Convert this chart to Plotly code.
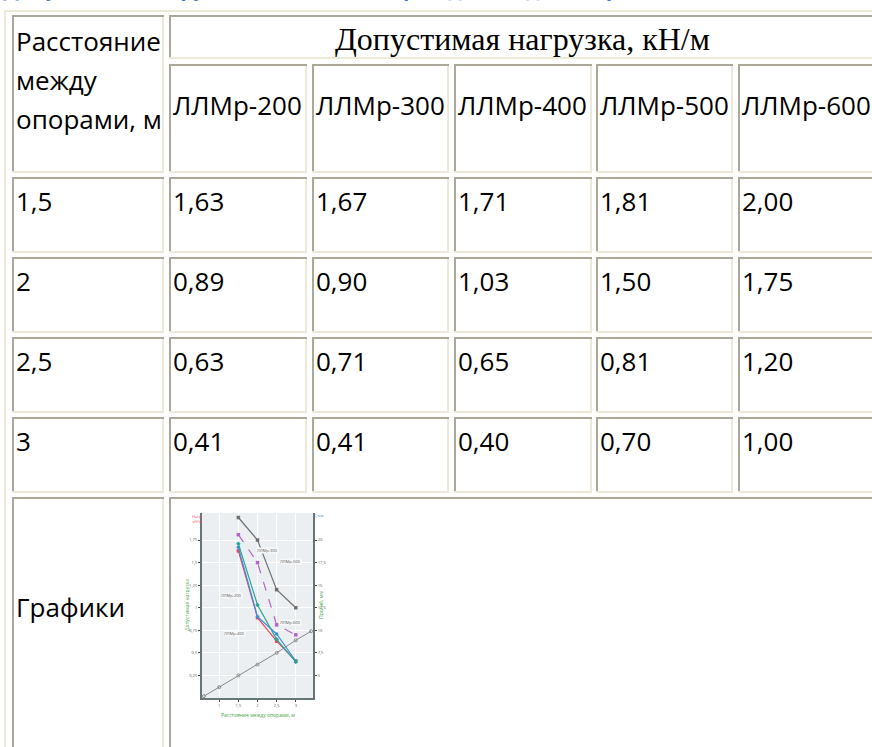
import plotly.graph_objects as go

# ---------------- data ----------------
page_title = "Допустимая нагрузка на лотки ЛЛМр водоотводные с решёткой"
header_top = "Допустимая нагрузка, кН/м"
first_col_header = ["Расстояние", "между", "опорами, м"]
series = ["ЛЛМр-200", "ЛЛМр-300", "ЛЛМр-400", "ЛЛМр-500", "ЛЛМр-600"]
span_labels = ["1,5", "2", "2,5", "3"]
span_values = [1.5, 2.0, 2.5, 3.0]
llmr200 = [1.63, 0.89, 0.63, 0.41]
llmr300 = [1.67, 0.90, 0.71, 0.41]
llmr400 = [1.71, 1.03, 0.65, 0.40]
llmr500 = [1.81, 1.50, 0.81, 0.70]
llmr600 = [2.00, 1.75, 1.20, 1.00]
last_row_label = "Графики"

# thumbnail chart (small picture in last row)
thumb_xticks = [1.0, 1.5, 2.0, 2.5, 3.0]
thumb_xticktext = ["1", "1,5", "2", "2,5", "3"]
thumb_yticks = [0.25, 0.5, 0.75, 1.0, 1.25, 1.5, 1.75]
thumb_yticktext = ["0,25", "0,5", "0,75", "1", "1,25", "1,5", "1,75"]
thumb_rticks = [0.25, 0.5, 0.75, 1.0, 1.25, 1.5, 1.75]
thumb_rticktext = ["5", "7,5", "10", "12,5", "15", "17,5", "20"]
deflect_x = [0.6, 1.0, 1.5, 2.0, 2.5, 3.0, 3.4]
deflect_y = [0.02, 0.12, 0.25, 0.37, 0.50, 0.64, 0.74]
thumb_left_title = "Допустимая нагрузка"
thumb_right_title = "Прогиб, мм"
thumb_x_title = "Расстояние между опорами, м"
thumb_top_left = "Нагр.<br>кН/м"
thumb_top_right = "С,мм"

values = [llmr200, llmr300, llmr400, llmr500, llmr600]


def fmt(v):
    return f"{v:.2f}".replace(".", ",")


# ---------------- layout constants ----------------
W, H = 872, 747
DARK = "#aca899"
LIGHT = "#ece9d8"
BODY_FONT = "Open Sans"
BODY_SIZE = 26
TEXT = "#000000"

col_edges = [(12, 164), (169, 307), (312, 449), (454, 592), (596, 733), (738, 876)]
row_h1 = (15, 59)
row_h2 = (64, 173)
data_rows = [(177, 253), (257, 333), (337, 413), (417, 493)]
last_row = (497, 780)

fig = go.Figure()
shapes = []
annotations = []


def line(x0, y0, x1, y1, color, w=2):
    shapes.append(dict(type="line", xref="x", yref="y", x0=x0, y0=y0, x1=x1, y1=y1,
                       line=dict(color=color, width=w), layer="above"))


def cell(x0, y0, x1, y1):
    # inset border: dark top/left, light bottom/right
    line(x0, y0 + 1, x1, y0 + 1, DARK)
    line(x0 + 1, y0, x0 + 1, y1, DARK)
    line(x0, y1 - 1, x1, y1 - 1, LIGHT)
    line(x1 - 1, y0 + 2, x1 - 1, y1, LIGHT)


def text(x, y, s, size=BODY_SIZE, family=BODY_FONT, color=TEXT, xanchor="left", **kw):
    annotations.append(dict(x=x, y=y, xref="x", yref="y", text=s, showarrow=False,
                            xanchor=xanchor, yanchor="middle", borderpad=0,
                            font=dict(family=family, size=size, color=color), **kw))


# outer table border (outset: light top/left)
line(4, 11, W + 5, 11, LIGHT)
line(5, 10, 5, H + 5, LIGHT)

# first column header (rowspan 2)
cell(col_edges[0][0], row_h1[0], col_edges[0][1], row_h2[1])
for i, s in enumerate(first_col_header):
    text(col_edges[0][0] + 3, 41 + i * 39, s)

# header row 1 (colspan 5)
cell(col_edges[1][0], row_h1[0], col_edges[-1][1], row_h1[1])
text((col_edges[1][0] + col_edges[-1][1]) / 2, 39, header_top, size=32,
     family="Liberation Serif", xanchor="center")

# header row 2
for j, name in enumerate(series):
    x0, x1 = col_edges[j + 1]
    cell(x0, row_h2[0], x1, row_h2[1])
    text(x0 + 3, 105, name)

# data rows
for i, (y0, y1) in enumerate(data_rows):
    cell(col_edges[0][0], y0, col_edges[0][1], y1)
    text(col_edges[0][0] + 3, y0 + 24, span_labels[i])
    for j in range(len(series)):
        x0, x1 = col_edges[j + 1]
        cell(x0, y0, x1, y1)
        text(x0 + 3, y0 + 24, fmt(values[j][i]))

# last row
cell(col_edges[0][0], last_row[0], col_edges[0][1], last_row[1])
text(col_edges[0][0] + 3, 607, last_row_label)
cell(col_edges[1][0], last_row[0], col_edges[-1][1], last_row[1])

# page title (only its lowest part is visible at the top edge)
annotations.append(dict(x=2, y=3, xref="x", yref="y", text="<b>" + page_title + "</b>",
                        showarrow=False, xanchor="left", yanchor="bottom", borderpad=0,
                        font=dict(family=BODY_FONT, size=21, color="#3a7bd5")))

# ---------------- thumbnail chart ----------------
tx0, tx1, ty0, ty1 = 202, 313, 513, 698
xr = [0.55, 3.45]
yr = [0, 2.05]

shapes.append(dict(type="rect", xref="x2 domain", yref="y2 domain", x0=0, x1=1, y0=0, y1=1,
                   fillcolor="#eceff2", line=dict(width=0), layer="below"))

styles = [
    dict(color="#e8475f", dash="solid", symbol="square"),
    dict(color="#3d8fd6", dash="solid", symbol="circle"),
    dict(color="#2aa596", dash="solid", symbol="diamond"),
    dict(color="#b265c9", dash="dash", symbol="square"),
    dict(color="#707070", dash="solid", symbol="square"),
]
for name, vals, st in zip(series, values, styles):
    fig.add_trace(go.Scatter(x=span_values, y=vals, name=name, xaxis="x2", yaxis="y2",
                             mode="lines+markers", showlegend=False,
                             line=dict(color=st["color"], width=1.2, dash=st["dash"]),
                             marker=dict(size=3.5, color=st["color"], symbol=st["symbol"])))
fig.add_trace(go.Scatter(x=deflect_x, y=deflect_y, xaxis="x2", yaxis="y2", mode="lines+markers",
                         showlegend=False, line=dict(color="#8a8a8a", width=1),
                         marker=dict(size=3, color="#8a8a8a", symbol="circle-open")))

# curve labels in the thumbnail
label_pos = [(1.33, 1.14), (2.27, 1.64), (1.41, 0.72), (2.85, 1.51), (2.85, 0.84)]
for name, (lx, ly) in zip(series, label_pos):
    annotations.append(dict(x=lx, y=ly, xref="x2", yref="y2", text=name, showarrow=False,
                            font=dict(family=BODY_FONT, size=4, color="#555"),
                            bgcolor="#f6f7f8", borderpad=0))

# thumbnail titles
text(187, 605, thumb_left_title, size=5, color="#3fa33f", xanchor="center", textangle=-90)
text(321, 605, thumb_right_title, size=5, color="#3fa33f", xanchor="center", textangle=-90)
text(258, 715, thumb_x_title, size=5, color="#3fa33f", xanchor="center")
text(197, 519, thumb_top_left, size=4, color="#e8475f", xanchor="center")
text(318, 515, thumb_top_right, size=4, color="#3d8fd6", xanchor="center")

fig.update_layout(
    width=W, height=H,
    margin=dict(l=0, r=0, t=0, b=0),
    paper_bgcolor="white",
    plot_bgcolor="rgba(0,0,0,0)",
    showlegend=False,
    xaxis=dict(range=[0, W], visible=False, domain=[0, 1], fixedrange=True),
    yaxis=dict(range=[H, 0], visible=False, domain=[0, 1], fixedrange=True),
    xaxis2=dict(domain=[tx0 / W, tx1 / W], range=xr, anchor="y2",
                tickvals=thumb_xticks, ticktext=thumb_xticktext,
                tickfont=dict(size=4, color="#555"), ticks="outside", ticklen=2,
                showline=True, linecolor="#667575", linewidth=2,
                showgrid=True, gridcolor="#ffffff", gridwidth=1, zeroline=False),
    yaxis2=dict(domain=[1 - ty1 / H, 1 - ty0 / H], range=yr, anchor="x2",
                tickvals=thumb_yticks, ticktext=thumb_yticktext,
                tickfont=dict(size=4, color="#555"), ticks="outside", ticklen=2,
                showline=True, linecolor="#667575", linewidth=2,
                showgrid=True, gridcolor="#ffffff", gridwidth=1, zeroline=False),
    yaxis3=dict(domain=[1 - ty1 / H, 1 - ty0 / H], range=yr, anchor="x2", overlaying="y2",
                side="right", tickvals=thumb_rticks, ticktext=thumb_rticktext,
                tickfont=dict(size=4, color="#555"), ticks="outside", ticklen=2,
                showline=True, linecolor="#667575", linewidth=2, showgrid=False,
                zeroline=False),
    shapes=shapes,
    annotations=annotations,
)
# dummy trace so yaxis3 is drawn
fig.add_trace(go.Scatter(x=[None], y=[None], xaxis="x2", yaxis="y3", showlegend=False))

fig.write_html("out.html", config={"displayModeBar": False},
               post_script="document.body.style.margin='0';document.body.style.overflow='hidden';")
